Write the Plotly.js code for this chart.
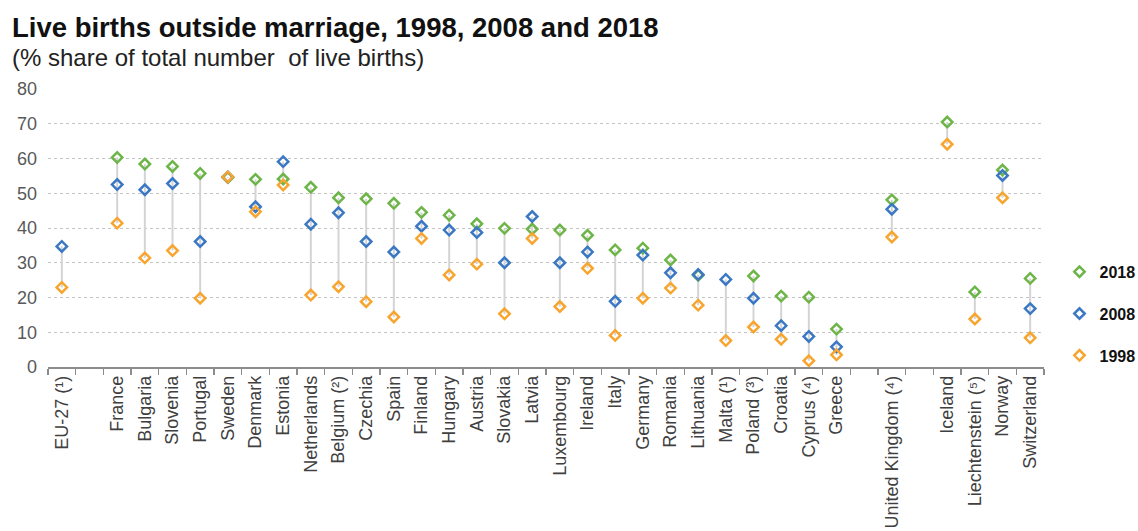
<!DOCTYPE html>
<html>
<head>
<meta charset="utf-8">
<script src="https://cdn.plot.ly/plotly-3.0.1.min.js"></script>
<style>html,body{margin:0;padding:0;background:#fff;}#chart{width:1138px;height:531px;}</style>
</head>
<body>
<div id="chart"></div>
<script>
const categories = ["EU-27 (¹)", " ", "France", "Bulgaria", "Slovenia", "Portugal", "Sweden", "Denmark", "Estonia",
  "Netherlands", "Belgium (²)", "Czechia", "Spain", "Finland", "Hungary", "Austria", "Slovakia", "Latvia",
  "Luxembourg", "Ireland", "Italy", "Germany", "Romania", "Lithuania", "Malta (¹)", "Poland (³)", "Croatia",
  "Cyprus (⁴)", "Greece", "  ", "United Kingdom (⁴)", "   ", "Iceland", "Liechtenstein (⁵)", "Norway", "Switzerland"];

const v2018 = [null, null, 60.3, 58.4, 57.7, 55.7, 54.5, 54.0, 54.1,
  51.7, 48.7, 48.4, 47.1, 44.5, 43.7, 41.2, 39.9, 39.7,
  39.4, 37.9, 33.7, 34.2, 30.8, 26.4, null, 26.2, 20.4,
  20.1, 10.9, null, 48.1, null, 70.5, 21.6, 56.7, 25.5];

const v2008 = [34.7, null, 52.5, 51.0, 52.8, 36.1, 54.7, 46.1, 59.1,
  41.1, 44.4, 36.1, 33.1, 40.5, 39.4, 38.7, 30.0, 43.3,
  30.0, 33.1, 18.9, 32.2, 27.1, 26.6, 25.2, 19.8, 11.9,
  8.8, 5.8, null, 45.4, null, null, null, 55.1, 16.8];

const v1998 = [22.9, null, 41.4, 31.4, 33.5, 19.8, 54.7, 44.7, 52.4,
  20.7, 23.1, 18.8, 14.4, 37.0, 26.5, 29.6, 15.3, 37.0,
  17.4, 28.4, 9.1, 19.8, 22.7, 17.8, 7.6, 11.5, 8.0,
  1.8, 3.5, null, 37.4, null, 64.1, 13.8, 48.7, 8.4];

const seriesNames = ["2018", "2008", "1998"];
const seriesColors = ["#6DB548", "#3B78C3", "#F7A52E"];

// connector segments from min to max of each category
const segX = [], segY = [];
categories.forEach((c, i) => {
  const vals = [v2018[i], v2008[i], v1998[i]].filter(v => v !== null);
  if (vals.length > 1) {
    segX.push(c, c, null);
    segY.push(Math.min(...vals), Math.max(...vals), null);
  }
});

const font = "'Liberation Sans', Arial, sans-serif";

const traces = [{
  x: segX, y: segY, type: "scatter", mode: "lines",
  line: {color: "#d4d4d4", width: 2}, showlegend: false, hoverinfo: "skip"
}];
[v2018, v2008, v1998].forEach((vals, k) => {
  traces.push({
    x: categories, y: vals, type: "scatter", mode: "markers",
    name: seriesNames[k], legendgroup: seriesNames[k],
    marker: {symbol: "diamond-open", size: 8, color: seriesColors[k], line: {width: 2.5, color: seriesColors[k]}}
  });
});

const layout = {
  width: 1138, height: 531,
  margin: {l: 48, r: 94, t: 89, b: 164},
  paper_bgcolor: "#ffffff", plot_bgcolor: "#ffffff",
  font: {family: font, color: "#404040"},
  showlegend: true,
  legend: {
    xref: "container", yref: "container",
    x: 0.931, xanchor: "left", y: 0.409, yanchor: "middle",
    traceorder: "grouped", tracegroupgap: 18,
    font: {family: font, size: 16, color: "#111111", weight: "bold"},
    itemwidth: 30, bgcolor: "rgba(0,0,0,0)"
  },
  xaxis: {
    type: "category", categoryorder: "array", categoryarray: categories,
    range: [-0.5, categories.length - 0.5],
    tickson: "boundaries", ticks: "outside", ticklen: 6, tickcolor: "#8c8c8c", tickwidth: 1.5,
    showline: true, linecolor: "#8c8c8c", linewidth: 1.5,
    showgrid: false, tickangle: -90,
    tickfont: {family: font, size: 18, color: "#404040"}
  },
  yaxis: {
    range: [0, 80], dtick: 10, tick0: 0,
    showgrid: true, gridcolor: "#c4c4c4", griddash: "dot", gridwidth: 1,
    zeroline: false, showline: false, ticks: "",
    ticklabelstandoff: 10,
    tickfont: {family: font, size: 18, color: "#595959"}
  },
  annotations: [
    {text: "<b>Live births outside marriage, 1998, 2008 and 2018</b>", xref: "paper", yref: "paper",
     x: -0.0382, y: 1.223, xanchor: "left", yanchor: "middle", showarrow: false,
     font: {family: font, size: 27.5, color: "#111111"}},
    {text: "(% share of total number  of live births)", xref: "paper", yref: "paper",
     x: -0.0382, y: 1.115, xanchor: "left", yanchor: "middle", showarrow: false,
     font: {family: font, size: 24, color: "#222222"}}
  ]
};

Plotly.newPlot("chart", traces, layout, {displayModeBar: false, staticPlot: true});
</script>
</body>
</html>
